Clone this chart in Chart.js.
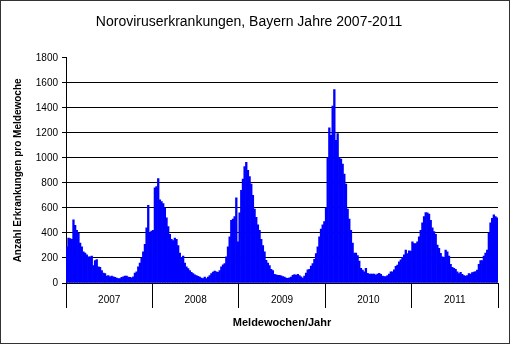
<!DOCTYPE html>
<html lang="de">
<head>
<meta charset="utf-8">
<title>Noroviruserkrankungen Bayern</title>
<script src="https://cdn.jsdelivr.net/npm/chart.js@4/dist/chart.umd.min.js"></script>
<style>
  html, body { margin: 0; padding: 0; background: #fff; }
  #chart { display: block; }
</style>
</head>
<body>
<canvas id="chart" width="510" height="344"></canvas>
<script>
// Jahre (Achsenbeschriftung) und Fälle pro Meldewoche
const years = ['2007', '2008', '2009', '2010', '2011'];

const cases2007 = [
    290, 360, 355, 350, 505, 460, 420, 400, 320, 290,
    250, 240, 225, 210, 210, 215, 140, 180, 188, 130,
    125, 100, 80, 75, 55, 60, 50, 55, 50, 45,
    40, 35, 35, 45, 50, 55, 55, 48, 45, 42,
    50, 80, 90, 130, 160, 200, 250, 310, 440, 620,
    400, 415
];
const cases2008 = [
    420, 760, 770, 835, 665, 650, 635, 600, 520, 450,
    390, 350, 340, 360, 350, 300, 240, 205, 215, 160,
    130, 115, 100, 85, 75, 65, 60, 54, 48, 40,
    35, 48, 35, 48, 60, 75, 88, 95, 90, 85,
    100, 130, 145, 155, 210, 290, 370, 500, 510, 530,
    680, 330
];
const cases2009 = [
    560, 740, 830, 930, 965, 900, 850, 790, 700, 590,
    525, 465, 420, 350, 300, 250, 182, 160, 140, 110,
    100, 70, 65, 62, 62, 58, 52, 48, 40, 38,
    42, 48, 62, 68, 62, 70, 60, 50, 40, 55,
    80, 105, 110, 135, 155, 190, 236, 290, 370, 430,
    465, 490
];
const cases2010 = [
    600, 1000, 1240, 1180, 1415, 1545, 1140, 1195, 1000, 990,
    950, 870, 790, 590, 510, 420, 320, 240, 240, 220,
    175, 117, 104, 90, 117, 77, 72, 72, 72, 72,
    64, 72, 77, 70, 56, 51, 51, 60, 72, 90,
    90, 105, 133, 143, 170, 185, 205, 225, 263, 236,
    258, 255
];
const cases2011 = [
    330, 315, 315, 330, 370, 420, 480, 530, 563, 560,
    550, 500, 440, 410, 390, 304, 277, 237, 210, 205,
    264, 250, 215, 150, 125, 117, 109, 90, 75, 85,
    70, 60, 56, 60, 75, 72, 83, 88, 92, 104,
    150, 179, 179, 215, 240, 264, 400, 480, 517, 544,
    530, 520
];

const yearlyCases = [cases2007, cases2008, cases2009, cases2010, cases2011];

// Wochenlabels "KW/Jahr" und fortlaufende Werte
const weekLabels = [];
const weeklyCases = [];
yearlyCases.forEach((values, y) => {
    values.forEach((v, w) => {
        weekLabels.push((w + 1) + '/' + years[y]);
        weeklyCases.push(v);
    });
});

Chart.defaults.font.family = '"Liberation Sans", Arial, sans-serif';
Chart.defaults.color = '#000';

// weisser Hintergrund und Rahmen um das ganze Bild
const frame = {
    id: 'frame',
    beforeDraw(chart) {
        const c = chart.ctx;
        c.save();
        c.fillStyle = '#fff';
        c.fillRect(0, 0, chart.width, chart.height);
        c.restore();
    },
    afterDraw(chart) {
        const c = chart.ctx;
        c.save();
        c.strokeStyle = '#333';
        c.lineWidth = 1;
        c.strokeRect(0.5, 0.5, chart.width - 1, chart.height - 1);
        c.restore();
    }
};

const ctx = document.getElementById('chart').getContext('2d');
new Chart(ctx, {
    type: 'bar',
    data: {
        labels: weekLabels,
        datasets: [{
            label: 'Erkrankungen',
            data: weeklyCases,
            backgroundColor: '#0000ff',
            borderWidth: 0,
            barPercentage: 1,
            categoryPercentage: 1
        }]
    },
    options: {
        responsive: false,
        animation: false,
        devicePixelRatio: 1,
        layout: { padding: { top: 0, right: 12, bottom: 0, left: 0 } },
        plugins: {
            legend: { display: false },
            tooltip: { enabled: false },
            title: {
                display: true,
                text: 'Noroviruserkrankungen, Bayern Jahre 2007-2011',
                color: '#000',
                font: { size: 14, weight: 'normal' },
                padding: { top: 14, bottom: 27 }
            }
        },
        scales: {
            x: {
                display: false,
                offset: true
            },
            years: {
                type: 'category',
                labels: years,
                position: 'bottom',
                offset: true,
                grid: {
                    offset: true,
                    drawOnChartArea: false,
                    tickLength: 25,
                    color: '#000',
                    tickColor: '#000'
                },
                border: { display: true, color: '#000', width: 1 },
                ticks: {
                    padding: -14,
                    color: '#000',
                    font: { size: 10 },
                    maxRotation: 0,
                    autoSkip: false
                },
                title: {
                    display: true,
                    text: 'Meldewochen/Jahr',
                    color: '#000',
                    font: { size: 11, weight: 'bold' },
                    padding: { top: 0, bottom: 14 }
                },
                afterFit(scale) { scale.height = 61; }
            },
            y: {
                min: 0,
                max: 1800,
                ticks: {
                    stepSize: 200,
                    padding: 4,
                    color: '#000',
                    font: { size: 10 },
                    callback: (v) => String(v)
                },
                grid: {
                    color: (c) => (c.tick && c.tick.value === 1800) ? 'rgba(0,0,0,0)' : '#000',
                    tickColor: '#000',
                    tickLength: 4
                },
                border: { display: true, color: '#000', width: 1 },
                title: {
                    display: true,
                    text: 'Anzahl Erkrankungen pro Meldewoche',
                    color: '#000',
                    font: { size: 10, weight: 'bold' },
                    padding: { top: 12, bottom: 0 }
                },
                afterFit(scale) { scale.width = 66; }
            }
        }
    },
    plugins: [frame]
});
</script>
</body>
</html>
